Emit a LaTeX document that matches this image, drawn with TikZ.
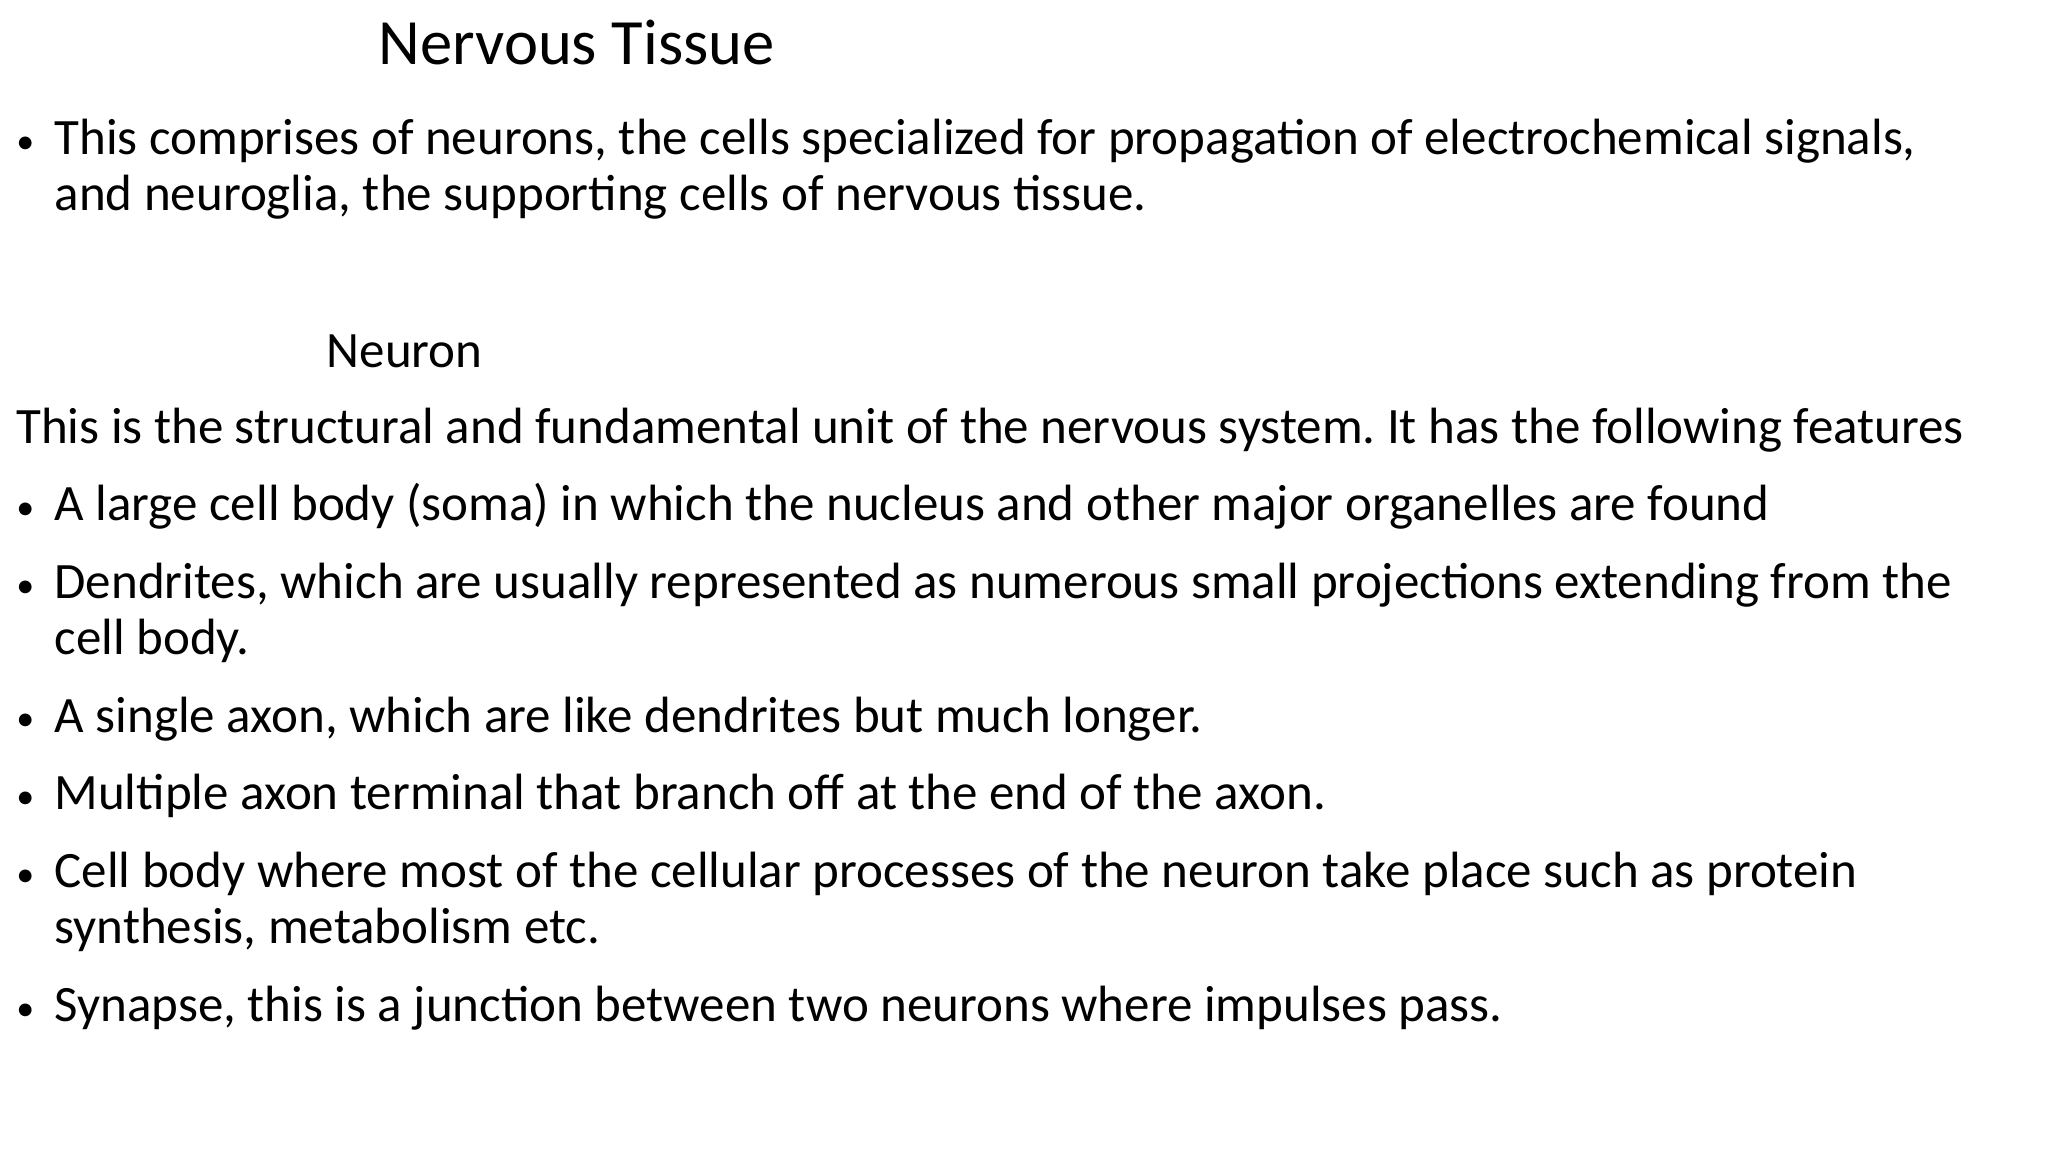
\documentclass[tikz,border=0pt]{standalone}
\usepackage{fontspec}
\setmainfont{Carlito}
\begin{document}
\frenchspacing
\begin{tikzpicture}[x=0.6606pt,y=-0.6606pt,
  t/.style={anchor=base west,inner sep=0pt,font=\fontsize{25.5}{30}\selectfont},
  b/.style={anchor=base west,inner sep=0pt,font=\fontsize{18}{22}\selectfont}]
\useasboundingbox (0,0) rectangle (1550,872);
\node[anchor=base west,inner sep=0pt,font=\fontsize{32.3}{38}\selectfont] (title) at (286,49) {Nervous Tissue};
\node[b] (b1) at (12,116) {•};
\node[t] (l1) at (41,117) {This comprises of neurons, the cells specialized for propagation of electrochemical signals,};
\node[t] (l2) at (41,159) {and neuroglia, the supporting cells of nervous tissue.};
\node[t] (neu) at (247,278) {Neuron};
\node[t] (intro) at (12,336) {This is the structural and fundamental unit of the nervous system. It has the following features};
\node[b] (b2) at (12,393) {•};
\node[t] (l3) at (41,394) {A large cell body (soma) in which the nucleus and other major organelles are found};
\node[b] (b3) at (12,452) {•};
\node[t] (l4) at (41,453) {Dendrites, which are usually represented as numerous small projections extending from the};
\node[t] (l5) at (41,495) {cell body.};
\node[b] (b4) at (12,553) {•};
\node[t] (l6) at (41,554) {A single axon, which are like dendrites but much longer.};
\node[b] (b5) at (12,612) {•};
\node[t] (l7) at (41,613) {Multiple axon terminal that branch off at the end of the axon.};
\node[b] (b6) at (12,671) {•};
\node[t] (l8) at (41,672) {Cell body where most of the cellular processes of the neuron take place such as protein};
\node[t] (l9) at (41,714) {synthesis, metabolism etc.};
\node[b] (b7) at (12,772) {•};
\node[t] (l10) at (41,773) {Synapse, this is a junction between two neurons where impulses pass.};
\end{tikzpicture}
\end{document}
